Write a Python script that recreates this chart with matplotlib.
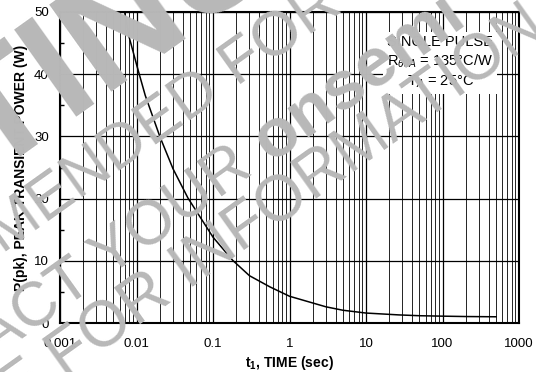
import numpy as np
import matplotlib
matplotlib.use('Agg')
import matplotlib.pyplot as plt
from matplotlib.ticker import LogLocator, NullFormatter, MultipleLocator

plt.rcParams['font.family'] = ['Liberation Sans', 'DejaVu Sans']
plt.rcParams['mathtext.fontset'] = 'custom'
plt.rcParams['mathtext.rm'] = 'Liberation Sans'
plt.rcParams['mathtext.it'] = 'Liberation Sans:italic'
plt.rcParams['mathtext.bf'] = 'Liberation Sans:bold'

# ---- data ----
time_s = [0.007, 0.008, 0.0102, 0.013, 0.0203, 0.03, 0.047, 0.1, 0.18, 0.3, 0.556, 1.0, 3.0, 5.0, 10.0, 27.0, 50.0, 100.0, 200.0, 500.0]
power_w = [50, 46, 41.2, 36.6, 29.9, 24.8, 20.1, 13.8, 10.1, 7.6, 5.8, 4.3, 2.6, 2.05, 1.6, 1.3, 1.17, 1.1, 1.04, 1.0]
x_ticks = [0.001, 0.01, 0.1, 1, 10, 100, 1000]
x_labels = ['0.001', '0.01', '0.1', '1', '10', '100', '1000']
y_ticks = [0, 10, 20, 30, 40, 50]
y_labels = ['0', '10', '20', '30', '40', '50']

W, H = 536, 372
fig = plt.figure(figsize=(W / 100, H / 100), dpi=100)
L, R, T, B = 60, 519, 12, 323
ax = fig.add_axes([L / W, (H - B) / H, (R - L) / W, (B - T) / H])
ax.set_xscale('log')
ax.set_xlim(1e-3, 1e3)
ax.set_ylim(0, 50)
ax.plot(time_s, power_w, color='black', lw=1.1, zorder=3, solid_joinstyle='round')

ax.set_xticks(x_ticks)
ax.set_xticklabels(x_labels)
ax.xaxis.set_minor_locator(LogLocator(base=10, subs=np.arange(2, 10)))
ax.xaxis.set_minor_formatter(NullFormatter())
ax.set_yticks(y_ticks)
ax.set_yticklabels(y_labels)
ax.yaxis.set_minor_locator(MultipleLocator(5))

ax.grid(True, which='major', axis='both', color='black', lw=0.9)
ax.grid(True, which='minor', axis='x', color='black', lw=0.6)
ax.tick_params(axis='x', which='both', length=0, labelsize=9.5, pad=11)
ax.tick_params(axis='y', which='major', length=0, labelsize=9.5, pad=8)
ax.tick_params(axis='y', which='minor', direction='in', length=3, width=1.0)
for s in ax.spines.values():
    s.set_linewidth(1.5)

ax.set_xlabel(r't$_{\mathbf{1}}$, TIME (sec)', fontsize=10, fontweight='bold', labelpad=2.5)
ax.set_ylabel('P(pk), PEAK TRANSIENT POWER (W)', fontsize=10, fontweight='bold', labelpad=4)

ax.text(0.828, 0.838, 'SINGLE PULSE\n' + r'R$_{\theta JA}$ = 135°C/W' + '\n' + r'T$_{A}$ = 25°C',
        transform=ax.transAxes, ha='center', va='center', fontsize=10.5, linespacing=1.3,
        bbox=dict(facecolor='white', edgecolor='none', pad=3), zorder=5)

# ---- watermark ----
wm_color = '#b8b8b8'
ang = 35.5
rad = np.deg2rad(ang)
dvec = np.array([np.cos(rad), np.sin(rad)])
uvec = np.array([-np.sin(rad), np.cos(rad)])
renderer = fig.canvas.get_renderer()


def text_width(s, size, weight):
    if not s:
        return 0.0
    t1 = fig.text(0, 0, s + '|', fontsize=size, fontweight=weight)
    t2 = fig.text(0, 0, '|', fontsize=size, fontweight=weight)
    w = t1.get_window_extent(renderer).width - t2.get_window_extent(renderer).width
    t1.remove(); t2.remove()
    return w


def place_line(segments, anchor_seg, anchor_idx, anchor_img):
    off = sum(text_width(s, sz, wt) for s, wt, sz in segments[:anchor_seg])
    s, wt, sz = segments[anchor_seg]
    off += text_width(s[:anchor_idx], sz, wt)
    lw_ = text_width(s[anchor_idx], sz, wt)
    cap = 0.716 * sz * 100 / 72
    ax_, ay_ = anchor_img[0], H - anchor_img[1]
    start = np.array([ax_, ay_]) - (off + lw_ / 2) * dvec - (cap / 2) * uvec
    cum = 0.0
    for s, wt, sz in segments:
        p = start + cum * dvec
        fig.text(p[0] / W, p[1] / H, s, fontsize=sz, fontweight=wt, color=wm_color,
                 rotation=ang, rotation_mode='anchor', ha='left', va='baseline', zorder=10)
        cum += text_width(s, sz, wt)


place_line([('DISCONTINUED', 'bold', 112)], 0, 7, (52, 58))
place_line([('NOT RECOMMENDED FOR NEW DESIGN', 'normal', 45)], 0, 16, (240, 58))
place_line([('CONTACT YOUR ', 'normal', 45), ('onsemi', 'bold', 50)], 0, 11, (224, 168))
place_line([('REPRESENTATIVE FOR INFORMATION', 'normal', 46)], 0, 15, (67, 349))

fig.savefig('out.png', dpi=100)
